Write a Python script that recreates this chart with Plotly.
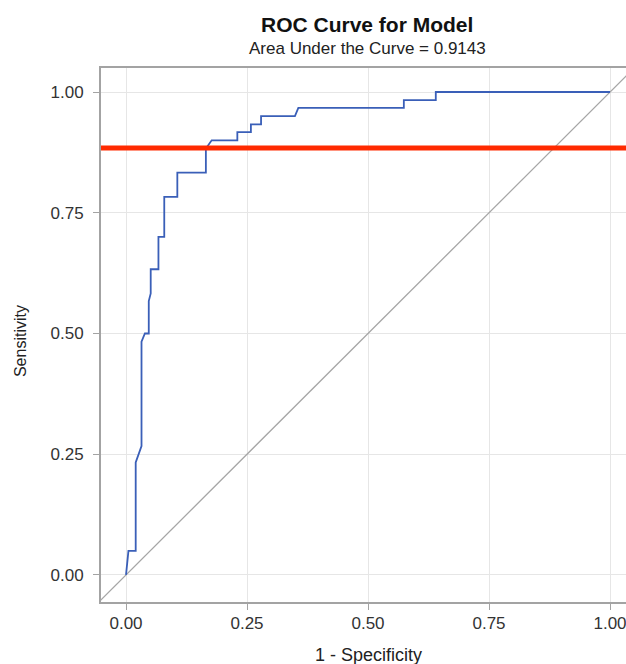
import plotly.graph_objects as go

# ROC curve vertices (1 - specificity, sensitivity)
fpr = [0.0, 0.003, 0.005, 0.02, 0.02, 0.032, 0.032, 0.039, 0.047, 0.047, 0.051, 0.051,
       0.067, 0.067, 0.079, 0.079, 0.106, 0.106, 0.165, 0.165, 0.177, 0.23, 0.23,
       0.258, 0.258, 0.279, 0.279, 0.349, 0.356, 0.574, 0.574, 0.64, 0.64, 1.0]
tpr = [0.0, 0.025, 0.05, 0.05, 0.233, 0.267, 0.483, 0.5, 0.5, 0.567, 0.583, 0.633,
       0.633, 0.7, 0.7, 0.783, 0.783, 0.833, 0.833, 0.883, 0.9, 0.9, 0.917,
       0.917, 0.933, 0.933, 0.95, 0.95, 0.967, 0.967, 0.983, 0.983, 1.0, 1.0]
diag = [-0.1, 1.1]
ref_level = 0.884
tick_vals = [0.0, 0.25, 0.5, 0.75, 1.0]
tick_text = ["0.00", "0.25", "0.50", "0.75", "1.00"]

FONT = "Liberation Sans, Arial, sans-serif"

fig = go.Figure()
fig.add_trace(go.Scatter(x=diag, y=diag, mode="lines",
                         line=dict(color="#a6a6a6", width=1.3), hoverinfo="skip"))
fig.add_trace(go.Scatter(x=fpr, y=tpr, mode="lines",
                         line=dict(color="#3a5fb8", width=1.8)))
fig.add_hline(y=ref_level, line=dict(color="#ff2a00", width=5))

axis_common = dict(
    showgrid=True, gridcolor="#e6e6e6", gridwidth=1.3,
    zeroline=False, showline=True, linecolor="#a3a3a3", linewidth=1.8,
    ticks="outside", ticklen=6, tickcolor="#a3a3a3", tickwidth=1.3,
    tickvals=tick_vals, ticktext=tick_text,
    tickfont=dict(family=FONT, size=17, color="#333333"),
    ticklabeloverflow="allow",
)

fig.update_layout(
    width=626, height=664,
    margin=dict(l=101, r=0, t=68, b=62, autoexpand=False),
    paper_bgcolor="white", plot_bgcolor="white",
    showlegend=False,
    font=dict(family=FONT, color="#222222"),
    xaxis=dict(range=[-0.0517, 1.033], mirror=True, ticklabelstandoff=-1, **axis_common),
    yaxis=dict(range=[-0.056, 1.0497], ticklabelstandoff=6, **axis_common),
    annotations=[
        dict(text="<b>ROC Curve for Model</b>", xref="paper", yref="paper",
             x=0.507, y=1, yshift=44, yanchor="middle", showarrow=False,
             font=dict(family=FONT, size=21, color="#111111")),
        dict(text="Area Under the Curve = 0.9143", xref="paper", yref="paper",
             x=0.507, y=1, yshift=20, yanchor="middle", showarrow=False,
             font=dict(family=FONT, size=17, color="#222222")),
        dict(text="Sensitivity", xref="paper", yref="paper", textangle=-90,
             x=-0.152, y=0.489, xanchor="center", yanchor="middle", showarrow=False,
             font=dict(family=FONT, size=16, color="#222222")),
        dict(text="1 - Specificity", xref="paper", yref="paper",
             x=0.509, y=-0.0993, xanchor="center", yanchor="middle", showarrow=False,
             font=dict(family=FONT, size=18, color="#222222")),
    ],
)

fig.write_html("out.html",
               config={"displayModeBar": False},
               post_script="document.body.style.margin='0';document.body.style.overflow='hidden';")
